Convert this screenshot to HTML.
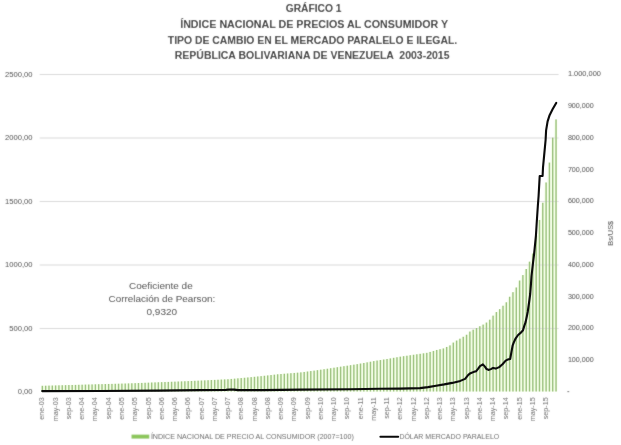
<!DOCTYPE html>
<html><head><meta charset="utf-8"><title>Grafico 1</title>
<style>html,body{margin:0;padding:0;background:#fff;}body{width:621px;height:445px;overflow:hidden;}svg{display:block;font-family:"Liberation Sans",sans-serif;}#w{width:621px;height:445px;}</style>
</head><body><div id="w">
<svg width="621" height="445" viewBox="0 0 621 445">
<defs><filter id="b" x="0" y="0" width="621" height="445" filterUnits="userSpaceOnUse"><feConvolveMatrix order="3" kernelMatrix="1 2 1 2 20 2 1 2 1" edgeMode="duplicate" preserveAlpha="true"/></filter></defs>
<rect width="621" height="445" fill="#fff"/>
<g filter="url(#b)">
<rect width="621" height="445" fill="#fff"/>
<g font-weight="bold" font-size="10.3" fill="#2a2a2a">
<text x="285.7" y="12.2" textLength="55.9" lengthAdjust="spacingAndGlyphs" xml:space="preserve">GRÁFICO 1</text>
<text x="180.2" y="27.7" textLength="268.0" lengthAdjust="spacingAndGlyphs" xml:space="preserve">ÍNDICE NACIONAL DE PRECIOS AL CONSUMIDOR Y</text>
<text x="167.8" y="43.5" textLength="289.4" lengthAdjust="spacingAndGlyphs" xml:space="preserve">TIPO DE CAMBIO EN EL MERCADO PARALELO E ILEGAL.</text>
<text x="174.8" y="58.5" textLength="274.7" lengthAdjust="spacingAndGlyphs" xml:space="preserve">REPÚBLICA BOLIVARIANA DE VENEZUELA  2003-2015</text>
</g>
<polygon points="41.00,391.5 41.00,385.81 43.71,385.81 44.31,385.72 47.03,385.72 47.63,385.62 50.34,385.62 50.94,385.53 53.66,385.53 54.26,385.43 56.97,385.43 57.57,385.34 60.28,385.34 60.88,385.24 63.60,385.24 64.20,385.15 66.91,385.15 67.51,385.06 70.23,385.06 70.83,384.98 73.54,384.98 74.14,384.89 76.86,384.89 77.46,384.80 80.17,384.80 80.77,384.70 83.48,384.70 84.08,384.61 86.80,384.61 87.40,384.52 90.11,384.52 90.71,384.42 93.43,384.42 94.03,384.32 96.74,384.32 97.34,384.22 100.05,384.22 100.65,384.14 103.37,384.14 103.97,384.05 106.68,384.05 107.28,383.97 110.00,383.97 110.60,383.88 113.31,383.88 113.91,383.80 116.62,383.80 117.22,383.71 119.94,383.71 120.54,383.62 123.25,383.62 123.85,383.53 126.57,383.53 127.17,383.41 129.88,383.41 130.48,383.28 133.19,383.28 133.79,383.16 136.51,383.16 137.11,383.04 139.82,383.04 140.42,382.91 143.14,382.91 143.74,382.78 146.45,382.78 147.05,382.65 149.77,382.65 150.37,382.51 153.08,382.51 153.68,382.39 156.39,382.39 156.99,382.27 159.71,382.27 160.31,382.15 163.02,382.15 163.62,382.03 166.34,382.03 166.94,381.91 169.65,381.91 170.25,381.78 172.96,381.78 173.56,381.65 176.28,381.65 176.88,381.52 179.59,381.52 180.19,381.39 182.91,381.39 183.51,381.25 186.22,381.25 186.82,381.12 189.53,381.12 190.13,380.97 192.85,380.97 193.45,380.83 196.16,380.83 196.76,380.67 199.48,380.67 200.08,380.52 202.79,380.52 203.39,380.37 206.11,380.37 206.71,380.21 209.42,380.21 210.02,380.05 212.73,380.05 213.33,379.89 216.05,379.89 216.65,379.73 219.36,379.73 219.96,379.56 222.68,379.56 223.28,379.39 225.99,379.39 226.59,379.22 229.30,379.22 229.90,378.94 232.62,378.94 233.22,378.66 235.93,378.66 236.53,378.37 239.25,378.37 239.85,378.07 242.56,378.07 243.16,377.77 245.87,377.77 246.47,377.46 249.19,377.46 249.79,377.14 252.50,377.14 253.10,376.81 255.82,376.81 256.42,376.47 259.13,376.47 259.73,376.13 262.44,376.13 263.04,375.78 265.76,375.78 266.36,375.42 269.07,375.42 269.67,375.05 272.39,375.05 272.99,374.67 275.70,374.67 276.30,374.28 279.02,374.28 279.62,374.02 282.33,374.02 282.93,373.76 285.64,373.76 286.24,373.49 288.96,373.49 289.56,373.22 292.27,373.22 292.87,372.94 295.59,372.94 296.19,372.66 298.90,372.66 299.50,372.38 302.21,372.38 302.81,371.96 305.53,371.96 306.13,371.52 308.84,371.52 309.44,371.08 312.16,371.08 312.76,370.63 315.47,370.63 316.07,370.17 318.78,370.17 319.38,369.69 322.10,369.69 322.70,369.21 325.41,369.21 326.01,368.73 328.73,368.73 329.33,368.23 332.04,368.23 332.64,367.72 335.36,367.72 335.96,367.21 338.67,367.21 339.27,366.68 341.98,366.68 342.58,366.19 345.30,366.19 345.90,365.69 348.61,365.69 349.21,365.19 351.93,365.19 352.53,364.67 355.24,364.67 355.84,364.14 358.55,364.14 359.15,363.56 361.87,363.56 362.47,362.97 365.18,362.97 365.78,362.36 368.50,362.36 369.10,361.74 371.81,361.74 372.41,361.10 375.12,361.10 375.72,360.58 378.44,360.58 379.04,360.06 381.75,360.06 382.35,359.52 385.07,359.52 385.67,358.97 388.38,358.97 388.98,358.41 391.69,358.41 392.29,357.84 395.01,357.84 395.61,357.26 398.32,357.26 398.92,356.67 401.64,356.67 402.24,356.20 404.95,356.20 405.55,355.73 408.27,355.73 408.87,355.25 411.58,355.25 412.18,354.77 414.89,354.77 415.49,354.30 418.21,354.30 418.81,353.83 421.52,353.83 422.12,353.35 424.84,353.35 425.44,352.87 428.15,352.87 428.75,351.92 431.46,351.92 432.06,350.95 434.78,350.95 435.38,349.96 438.09,349.96 438.69,349.20 441.41,349.20 442.01,348.44 444.72,348.44 445.32,346.94 448.03,346.94 448.63,345.40 451.35,345.40 451.95,342.61 454.66,342.61 455.26,340.58 457.98,340.58 458.58,338.68 461.29,338.68 461.89,336.78 464.61,336.78 465.21,334.75 467.92,334.75 468.52,331.59 471.23,331.59 471.83,329.69 474.55,329.69 475.15,328.04 477.86,328.04 478.46,326.27 481.18,326.27 481.78,324.62 484.49,324.62 485.09,322.59 487.80,322.59 488.40,319.68 491.12,319.68 491.72,315.63 494.43,315.63 495.03,312.08 497.75,312.08 498.35,309.16 501.06,309.16 501.66,305.74 504.37,305.74 504.97,302.32 507.69,302.32 508.29,296.75 511.00,296.75 511.60,292.19 514.32,292.19 514.92,287.50 517.63,287.50 518.23,280.54 520.94,280.54 521.54,275.09 524.26,275.09 524.86,269.01 527.57,269.01 528.17,261.66 530.89,261.66 531.49,253.55 534.20,253.55 534.80,235.82 537.52,235.82 538.12,219.98 540.83,219.98 541.43,202.75 544.14,202.75 544.74,182.48 547.46,182.48 548.06,162.60 550.77,162.60 551.37,137.64 554.09,137.64 554.69,119.40 557.40,119.40 557.40,391.5" fill="#f0fbe2"/>
<g stroke="#d9d9d9" stroke-width="1">
<line x1="39.7" y1="328.50" x2="558.6" y2="328.50"/>
<line x1="39.7" y1="265.00" x2="558.6" y2="265.00"/>
<line x1="39.7" y1="201.50" x2="558.6" y2="201.50"/>
<line x1="39.7" y1="138.00" x2="558.6" y2="138.00"/>
<line x1="39.7" y1="74.50" x2="558.6" y2="74.50"/>
</g>
<g font-size="7.6" fill="#3c3c3c" text-anchor="end">
<text x="32.5" y="394.30">0,00</text>
<text x="32.5" y="330.80">500,00</text>
<text x="32.5" y="267.30">1000,00</text>
<text x="32.5" y="203.80">1500,00</text>
<text x="32.5" y="140.30">2000,00</text>
<text x="32.5" y="76.80">2500,00</text>
</g>
<g font-size="7.5" fill="#3c3c3c">
<text x="567.9" y="362.05" textLength="25.8" lengthAdjust="spacingAndGlyphs">100,000</text>
<text x="567.9" y="330.30" textLength="25.8" lengthAdjust="spacingAndGlyphs">200,000</text>
<text x="567.9" y="298.55" textLength="25.8" lengthAdjust="spacingAndGlyphs">300,000</text>
<text x="567.9" y="266.80" textLength="25.8" lengthAdjust="spacingAndGlyphs">400,000</text>
<text x="567.9" y="235.05" textLength="25.8" lengthAdjust="spacingAndGlyphs">500,000</text>
<text x="567.9" y="203.30" textLength="25.8" lengthAdjust="spacingAndGlyphs">600,000</text>
<text x="567.9" y="171.55" textLength="25.8" lengthAdjust="spacingAndGlyphs">700,000</text>
<text x="567.9" y="139.80" textLength="25.8" lengthAdjust="spacingAndGlyphs">800,000</text>
<text x="567.9" y="108.05" textLength="25.8" lengthAdjust="spacingAndGlyphs">900,000</text>
<text x="567.9" y="76.30" textLength="33.0" lengthAdjust="spacingAndGlyphs">1.000,000</text>
<rect x="567.4" y="391.3" width="1.8" height="0.8" fill="#3c3c3c"/>
</g>
<text transform="translate(612.6,233.3) rotate(-90)" font-size="7.3" fill="#3c3c3c" text-anchor="middle">Bs/US$</text>
<g font-size="7.2" fill="#626262" text-anchor="end">
<text transform="translate(44.46,397.3) rotate(-90)">ene-03</text>
<text transform="translate(57.71,397.3) rotate(-90)">may-03</text>
<text transform="translate(70.97,397.3) rotate(-90)">sep-03</text>
<text transform="translate(84.23,397.3) rotate(-90)">ene-04</text>
<text transform="translate(97.48,397.3) rotate(-90)">may-04</text>
<text transform="translate(110.74,397.3) rotate(-90)">sep-04</text>
<text transform="translate(124.00,397.3) rotate(-90)">ene-05</text>
<text transform="translate(137.25,397.3) rotate(-90)">may-05</text>
<text transform="translate(150.51,397.3) rotate(-90)">sep-05</text>
<text transform="translate(163.76,397.3) rotate(-90)">ene-06</text>
<text transform="translate(177.02,397.3) rotate(-90)">may-06</text>
<text transform="translate(190.28,397.3) rotate(-90)">sep-06</text>
<text transform="translate(203.53,397.3) rotate(-90)">ene-07</text>
<text transform="translate(216.79,397.3) rotate(-90)">may-07</text>
<text transform="translate(230.05,397.3) rotate(-90)">sep-07</text>
<text transform="translate(243.30,397.3) rotate(-90)">ene-08</text>
<text transform="translate(256.56,397.3) rotate(-90)">may-08</text>
<text transform="translate(269.82,397.3) rotate(-90)">sep-08</text>
<text transform="translate(283.07,397.3) rotate(-90)">ene-09</text>
<text transform="translate(296.33,397.3) rotate(-90)">may-09</text>
<text transform="translate(309.59,397.3) rotate(-90)">sep-09</text>
<text transform="translate(322.84,397.3) rotate(-90)">ene-10</text>
<text transform="translate(336.10,397.3) rotate(-90)">may-10</text>
<text transform="translate(349.35,397.3) rotate(-90)">sep-10</text>
<text transform="translate(362.61,397.3) rotate(-90)">ene-11</text>
<text transform="translate(375.87,397.3) rotate(-90)">may-11</text>
<text transform="translate(389.12,397.3) rotate(-90)">sep-11</text>
<text transform="translate(402.38,397.3) rotate(-90)">ene-12</text>
<text transform="translate(415.64,397.3) rotate(-90)">may-12</text>
<text transform="translate(428.89,397.3) rotate(-90)">sep-12</text>
<text transform="translate(442.15,397.3) rotate(-90)">ene-13</text>
<text transform="translate(455.41,397.3) rotate(-90)">may-13</text>
<text transform="translate(468.66,397.3) rotate(-90)">sep-13</text>
<text transform="translate(481.92,397.3) rotate(-90)">ene-14</text>
<text transform="translate(495.18,397.3) rotate(-90)">may-14</text>
<text transform="translate(508.43,397.3) rotate(-90)">sep-14</text>
<text transform="translate(521.69,397.3) rotate(-90)">ene-15</text>
<text transform="translate(534.94,397.3) rotate(-90)">may-15</text>
<text transform="translate(548.20,397.3) rotate(-90)">sep-15</text>
</g>
<g font-size="9.6" fill="#3a3a3a">
<text x="129.0" y="288.6" textLength="63.7" lengthAdjust="spacingAndGlyphs">Coeficiente de</text>
<text x="108.6" y="302.0" textLength="106.7" lengthAdjust="spacingAndGlyphs">Correlación de Pearson:</text>
<text x="146.5" y="315.3" textLength="30.6" lengthAdjust="spacingAndGlyphs">0,9320</text>
</g>
<rect x="131.5" y="434.6" width="17.8" height="4" fill="#8cc65a"/>
<text x="150.9" y="438.6" font-size="7.1" fill="#626262" textLength="202.9" lengthAdjust="spacingAndGlyphs">ÍNDICE NACIONAL DE PRECIO AL CONSUMIDOR (2007=100)</text>
<text x="399.4" y="438.6" font-size="7.1" fill="#626262" textLength="99.8" lengthAdjust="spacingAndGlyphs">DÓLAR MERCADO PARALELO</text>
</g>
<g fill="#a2c686">
<rect x="41.66" y="385.81" width="1.4" height="5.69"/>
<rect x="44.97" y="385.72" width="1.4" height="5.78"/>
<rect x="48.29" y="385.62" width="1.4" height="5.88"/>
<rect x="51.60" y="385.53" width="1.4" height="5.97"/>
<rect x="54.91" y="385.43" width="1.4" height="6.07"/>
<rect x="58.23" y="385.34" width="1.4" height="6.16"/>
<rect x="61.54" y="385.24" width="1.4" height="6.26"/>
<rect x="64.86" y="385.15" width="1.4" height="6.35"/>
<rect x="68.17" y="385.06" width="1.4" height="6.44"/>
<rect x="71.48" y="384.98" width="1.4" height="6.52"/>
<rect x="74.80" y="384.89" width="1.4" height="6.61"/>
<rect x="78.11" y="384.80" width="1.4" height="6.70"/>
<rect x="81.43" y="384.70" width="1.4" height="6.80"/>
<rect x="84.74" y="384.61" width="1.4" height="6.89"/>
<rect x="88.05" y="384.52" width="1.4" height="6.98"/>
<rect x="91.37" y="384.42" width="1.4" height="7.08"/>
<rect x="94.68" y="384.32" width="1.4" height="7.18"/>
<rect x="98.00" y="384.22" width="1.4" height="7.28"/>
<rect x="101.31" y="384.14" width="1.4" height="7.36"/>
<rect x="104.62" y="384.05" width="1.4" height="7.45"/>
<rect x="107.94" y="383.97" width="1.4" height="7.53"/>
<rect x="111.25" y="383.88" width="1.4" height="7.62"/>
<rect x="114.57" y="383.80" width="1.4" height="7.70"/>
<rect x="117.88" y="383.71" width="1.4" height="7.79"/>
<rect x="121.20" y="383.62" width="1.4" height="7.88"/>
<rect x="124.51" y="383.53" width="1.4" height="7.97"/>
<rect x="127.82" y="383.41" width="1.4" height="8.09"/>
<rect x="131.14" y="383.28" width="1.4" height="8.22"/>
<rect x="134.45" y="383.16" width="1.4" height="8.34"/>
<rect x="137.77" y="383.04" width="1.4" height="8.46"/>
<rect x="141.08" y="382.91" width="1.4" height="8.59"/>
<rect x="144.39" y="382.78" width="1.4" height="8.72"/>
<rect x="147.71" y="382.65" width="1.4" height="8.85"/>
<rect x="151.02" y="382.51" width="1.4" height="8.99"/>
<rect x="154.34" y="382.39" width="1.4" height="9.11"/>
<rect x="157.65" y="382.27" width="1.4" height="9.23"/>
<rect x="160.96" y="382.15" width="1.4" height="9.35"/>
<rect x="164.28" y="382.03" width="1.4" height="9.47"/>
<rect x="167.59" y="381.91" width="1.4" height="9.59"/>
<rect x="170.91" y="381.78" width="1.4" height="9.72"/>
<rect x="174.22" y="381.65" width="1.4" height="9.85"/>
<rect x="177.54" y="381.52" width="1.4" height="9.98"/>
<rect x="180.85" y="381.39" width="1.4" height="10.11"/>
<rect x="184.16" y="381.25" width="1.4" height="10.25"/>
<rect x="187.48" y="381.12" width="1.4" height="10.38"/>
<rect x="190.79" y="380.97" width="1.4" height="10.53"/>
<rect x="194.11" y="380.83" width="1.4" height="10.67"/>
<rect x="197.42" y="380.67" width="1.4" height="10.83"/>
<rect x="200.73" y="380.52" width="1.4" height="10.98"/>
<rect x="204.05" y="380.37" width="1.4" height="11.13"/>
<rect x="207.36" y="380.21" width="1.4" height="11.29"/>
<rect x="210.68" y="380.05" width="1.4" height="11.45"/>
<rect x="213.99" y="379.89" width="1.4" height="11.61"/>
<rect x="217.30" y="379.73" width="1.4" height="11.77"/>
<rect x="220.62" y="379.56" width="1.4" height="11.94"/>
<rect x="223.93" y="379.39" width="1.4" height="12.11"/>
<rect x="227.25" y="379.22" width="1.4" height="12.28"/>
<rect x="230.56" y="378.94" width="1.4" height="12.56"/>
<rect x="233.88" y="378.66" width="1.4" height="12.84"/>
<rect x="237.19" y="378.37" width="1.4" height="13.13"/>
<rect x="240.50" y="378.07" width="1.4" height="13.43"/>
<rect x="243.82" y="377.77" width="1.4" height="13.73"/>
<rect x="247.13" y="377.46" width="1.4" height="14.04"/>
<rect x="250.45" y="377.14" width="1.4" height="14.36"/>
<rect x="253.76" y="376.81" width="1.4" height="14.69"/>
<rect x="257.07" y="376.47" width="1.4" height="15.03"/>
<rect x="260.39" y="376.13" width="1.4" height="15.37"/>
<rect x="263.70" y="375.78" width="1.4" height="15.72"/>
<rect x="267.02" y="375.42" width="1.4" height="16.08"/>
<rect x="270.33" y="375.05" width="1.4" height="16.45"/>
<rect x="273.64" y="374.67" width="1.4" height="16.83"/>
<rect x="276.96" y="374.28" width="1.4" height="17.22"/>
<rect x="280.27" y="374.02" width="1.4" height="17.48"/>
<rect x="283.59" y="373.76" width="1.4" height="17.74"/>
<rect x="286.90" y="373.49" width="1.4" height="18.01"/>
<rect x="290.21" y="373.22" width="1.4" height="18.28"/>
<rect x="293.53" y="372.94" width="1.4" height="18.56"/>
<rect x="296.84" y="372.66" width="1.4" height="18.84"/>
<rect x="300.16" y="372.38" width="1.4" height="19.12"/>
<rect x="303.47" y="371.96" width="1.4" height="19.54"/>
<rect x="306.79" y="371.52" width="1.4" height="19.98"/>
<rect x="310.10" y="371.08" width="1.4" height="20.42"/>
<rect x="313.41" y="370.63" width="1.4" height="20.87"/>
<rect x="316.73" y="370.17" width="1.4" height="21.33"/>
<rect x="320.04" y="369.69" width="1.4" height="21.81"/>
<rect x="323.36" y="369.21" width="1.4" height="22.29"/>
<rect x="326.67" y="368.73" width="1.4" height="22.77"/>
<rect x="329.98" y="368.23" width="1.4" height="23.27"/>
<rect x="333.30" y="367.72" width="1.4" height="23.78"/>
<rect x="336.61" y="367.21" width="1.4" height="24.29"/>
<rect x="339.93" y="366.68" width="1.4" height="24.82"/>
<rect x="343.24" y="366.19" width="1.4" height="25.31"/>
<rect x="346.55" y="365.69" width="1.4" height="25.81"/>
<rect x="349.87" y="365.19" width="1.4" height="26.31"/>
<rect x="353.18" y="364.67" width="1.4" height="26.83"/>
<rect x="356.50" y="364.14" width="1.4" height="27.36"/>
<rect x="359.81" y="363.56" width="1.4" height="27.94"/>
<rect x="363.12" y="362.97" width="1.4" height="28.53"/>
<rect x="366.44" y="362.36" width="1.4" height="29.14"/>
<rect x="369.75" y="361.74" width="1.4" height="29.76"/>
<rect x="373.07" y="361.10" width="1.4" height="30.40"/>
<rect x="376.38" y="360.58" width="1.4" height="30.92"/>
<rect x="379.70" y="360.06" width="1.4" height="31.44"/>
<rect x="383.01" y="359.52" width="1.4" height="31.98"/>
<rect x="386.32" y="358.97" width="1.4" height="32.53"/>
<rect x="389.64" y="358.41" width="1.4" height="33.09"/>
<rect x="392.95" y="357.84" width="1.4" height="33.66"/>
<rect x="396.27" y="357.26" width="1.4" height="34.24"/>
<rect x="399.58" y="356.67" width="1.4" height="34.83"/>
<rect x="402.89" y="356.20" width="1.4" height="35.30"/>
<rect x="406.21" y="355.73" width="1.4" height="35.77"/>
<rect x="409.52" y="355.25" width="1.4" height="36.25"/>
<rect x="412.84" y="354.77" width="1.4" height="36.73"/>
<rect x="416.15" y="354.30" width="1.4" height="37.20"/>
<rect x="419.46" y="353.83" width="1.4" height="37.67"/>
<rect x="422.78" y="353.35" width="1.4" height="38.15"/>
<rect x="426.09" y="352.87" width="1.4" height="38.63"/>
<rect x="429.41" y="351.92" width="1.4" height="39.58"/>
<rect x="432.72" y="350.95" width="1.4" height="40.55"/>
<rect x="436.04" y="349.96" width="1.4" height="41.54"/>
<rect x="439.35" y="349.20" width="1.4" height="42.30"/>
<rect x="442.66" y="348.44" width="1.4" height="43.06"/>
<rect x="445.98" y="346.94" width="1.4" height="44.56"/>
<rect x="449.29" y="345.40" width="1.4" height="46.10"/>
<rect x="452.61" y="342.61" width="1.4" height="48.89"/>
<rect x="455.92" y="340.58" width="1.4" height="50.92"/>
<rect x="459.23" y="338.68" width="1.4" height="52.82"/>
<rect x="462.55" y="336.78" width="1.4" height="54.72"/>
<rect x="465.86" y="334.75" width="1.4" height="56.75"/>
<rect x="469.18" y="331.59" width="1.4" height="59.91"/>
<rect x="472.49" y="329.69" width="1.4" height="61.81"/>
<rect x="475.80" y="328.04" width="1.4" height="63.46"/>
<rect x="479.12" y="326.27" width="1.4" height="65.23"/>
<rect x="482.43" y="324.62" width="1.4" height="66.88"/>
<rect x="485.75" y="322.59" width="1.4" height="68.91"/>
<rect x="489.06" y="319.68" width="1.4" height="71.82"/>
<rect x="492.38" y="315.63" width="1.4" height="75.87"/>
<rect x="495.69" y="312.08" width="1.4" height="79.42"/>
<rect x="499.00" y="309.16" width="1.4" height="82.34"/>
<rect x="502.32" y="305.74" width="1.4" height="85.76"/>
<rect x="505.63" y="302.32" width="1.4" height="89.18"/>
<rect x="508.95" y="296.75" width="1.4" height="94.75"/>
<rect x="512.26" y="292.19" width="1.4" height="99.31"/>
<rect x="515.57" y="287.50" width="1.4" height="104.00"/>
<rect x="518.89" y="280.54" width="1.4" height="110.96"/>
<rect x="522.20" y="275.09" width="1.4" height="116.41"/>
<rect x="525.52" y="269.01" width="1.4" height="122.49"/>
<rect x="528.83" y="261.66" width="1.4" height="129.84"/>
<rect x="532.14" y="253.55" width="1.4" height="137.95"/>
<rect x="535.46" y="235.82" width="1.4" height="155.68"/>
<rect x="538.77" y="219.98" width="1.4" height="171.52"/>
<rect x="542.09" y="202.75" width="1.4" height="188.75"/>
<rect x="545.40" y="182.48" width="1.4" height="209.02"/>
<rect x="548.71" y="162.60" width="1.4" height="228.90"/>
<rect x="552.03" y="137.64" width="1.4" height="253.86"/>
<rect x="555.34" y="119.40" width="1.4" height="272.10"/>
</g>
<polyline points="42.2,391.1 100.0,391.0 160.0,390.6 200.0,390.1 226.0,389.9 230.0,389.5 234.0,389.6 238.0,390.1 262.0,390.1 300.0,389.6 350.0,389.2 380.0,388.8 400.0,388.6 420.0,388.1 428.0,387.1 436.1,385.7 444.2,384.4 452.2,382.9 460.3,380.9 465.1,378.9 468.3,374.9 470.5,373.2 474.5,371.6 476.0,371.3 478.0,368.9 480.0,366.1 482.9,364.4 484.9,366.6 486.6,369.1 488.9,369.9 490.9,369.1 493.1,367.9 495.8,368.6 499.2,367.1 502.5,364.3 505.7,360.6 508.1,359.4 510.2,359.0 511.4,352.1 512.6,345.7 513.8,342.4 515.7,338.3 518.1,335.0 520.9,332.6 523.0,330.2 524.2,326.1 525.6,322.1 526.8,316.5 527.7,312.0 529.0,303.0 530.2,294.0 530.9,285.0 531.5,276.0 533.0,263.0 534.1,254.0 535.9,236.0 536.7,223.0 537.9,205.0 538.6,196.0 539.7,176.0 542.6,176.0 543.0,167.5 544.1,155.8 545.6,140.0 546.1,130.4 547.6,121.3 549.6,115.2 552.7,109.1 556.2,102.9" fill="none" stroke="#0a0a0a" stroke-width="2.1" stroke-linejoin="round" stroke-linecap="round"/>
<line x1="380.4" y1="436.7" x2="398.2" y2="436.7" stroke="#0a0a0a" stroke-width="2.0" stroke-linecap="round"/>
</svg>
</div></body></html>
